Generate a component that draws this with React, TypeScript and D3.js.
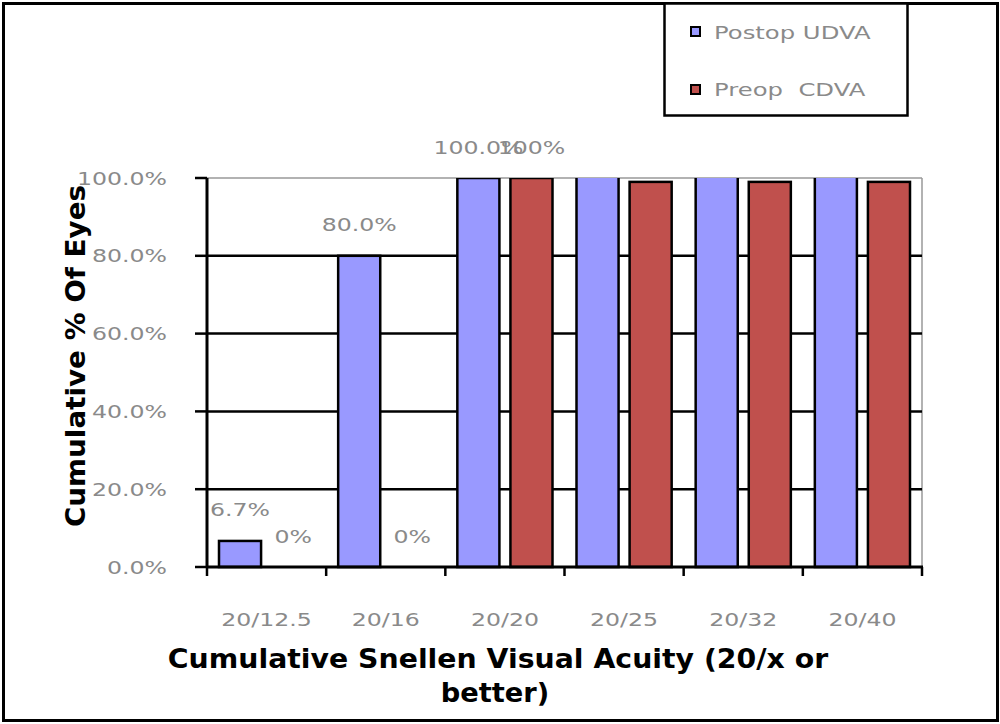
import React from "react";
import * as d3 from "d3";

const categories = ["20/12.5", "20/16", "20/20", "20/25", "20/32", "20/40"];
const seriesNames = ["Postop UDVA", "Preop CDVA"];
const postopUDVA = [6.7, 80, 100, 101, 101, 101];
const preopCDVA = [0, 0, 100, 99, 99, 99];
const dataLabelsPostop = ["6.7%", "80.0%", "100.0%", "", "", ""];
const dataLabelsPreop = ["0%", "0%", "100%", "", "", ""];
const yTicks = [0, 20, 40, 60, 80, 100];
const colors = ["#9999FF", "#C0504D"];

const W = 1000;
const H = 724;
const FONT = "'DejaVu Sans', Verdana, sans-serif";
const GRAY = "#8a8a8a";
const SX = 1.35;

export default function App() {
  const plot = { left: 207, right: 922, top: 178, bottom: 567 };
  const x0 = d3.scaleBand<string>().domain(categories).range([plot.left, plot.right]).padding(0);
  const x1 = d3
    .scaleBand<string>()
    .domain(seriesNames)
    .range([0, x0.bandwidth()])
    .paddingInner(0.2075)
    .paddingOuter(0.226);
  const y = d3.scaleLinear().domain([0, 100]).range([plot.bottom, plot.top]);
  const series = [postopUDVA, preopCDVA];
  const labels = [dataLabelsPostop, dataLabelsPreop];

  const grayText = (key: string, tx: number, ty: number, txt: string, anchor: string, size = 17.5, sx = SX) => (
    <text
      key={key}
      transform={`translate(${tx},${ty}) scale(${sx},1)`}
      textAnchor={anchor as any}
      fontFamily={FONT}
      fontSize={size}
      fill={GRAY}
      style={{ whiteSpace: "pre" }}
    >
      {txt}
    </text>
  );

  return (
    <svg
      width={W}
      height={H}
      viewBox={`0 0 ${W} ${H}`}
      style={{ position: "absolute", left: 0, top: 0, display: "block", background: "#fff" }}
    >
      <defs>
        <clipPath id="plotClip">
          <rect x={plot.left - 2} y={plot.top} width={plot.right - plot.left + 4} height={plot.bottom - plot.top + 2} />
        </clipPath>
      </defs>
      <rect x={0} y={0} width={W} height={H} fill="#fff" />
      {/* outer frame */}
      <rect x={3.5} y={3.5} width={994} height={717} fill="none" stroke="#000" strokeWidth={3} />

      {/* plot area border (gray top/right) */}
      <line x1={plot.left} x2={plot.right} y1={y(100)} y2={y(100)} stroke="#999" strokeWidth={1.5} />
      <line x1={plot.right} x2={plot.right} y1={plot.top} y2={plot.bottom} stroke="#999" strokeWidth={1.5} />

      {/* gridlines */}
      {yTicks
        .filter((t) => t > 0 && t < 100)
        .map((t) => (
          <line key={"g" + t} x1={plot.left} x2={plot.right} y1={y(t)} y2={y(t)} stroke="#000" strokeWidth={2.5} />
        ))}

      {/* bars */}
      <g clipPath="url(#plotClip)">
        {categories.map((c, i) =>
          seriesNames.map((s, j) => {
            const v = series[j][i];
            if (v <= 0) return null;
            const bx = (x0(c) as number) + (x1(s) as number);
            return (
              <rect
                key={c + s}
                x={bx}
                y={y(v)}
                width={x1.bandwidth()}
                height={y(0) - y(v)}
                fill={colors[j]}
                stroke="#000"
                strokeWidth={2.5}
              />
            );
          })
        )}
      </g>

      {/* y axis */}
      <line x1={plot.left} x2={plot.left} y1={plot.top} y2={plot.bottom} stroke="#000" strokeWidth={3} />
      {yTicks.map((t) => (
        <line key={"yt" + t} x1={plot.left - 12} x2={plot.left} y1={y(t)} y2={y(t)} stroke="#000" strokeWidth={2.5} />
      ))}
      {yTicks.map((t) => grayText("yl" + t, 167, y(t) + 6.5, `${t.toFixed(1)}%`, "end"))}

      {/* x axis */}
      <line x1={plot.left - 1} x2={plot.right + 1} y1={plot.bottom} y2={plot.bottom} stroke="#000" strokeWidth={3} />
      {[...categories.map((c) => x0(c) as number), plot.right].map((xx, i) => (
        <line key={"xt" + i} x1={xx} x2={xx} y1={plot.bottom} y2={plot.bottom + 9} stroke="#000" strokeWidth={2.5} />
      ))}
      {categories.map((c) => grayText("xl" + c, (x0(c) as number) + x0.bandwidth() / 2, 626, c, "middle"))}

      {/* data labels */}
      {categories.map((c, i) =>
        seriesNames.map((s, j) => {
          const txt = labels[j][i];
          if (!txt) return null;
          const v = series[j][i];
          const cx = (x0(c) as number) + (x1(s) as number) + x1.bandwidth() / 2;
          return grayText("dl" + c + s, cx, y(v) - 24.5, txt, "middle");
        })
      )}

      {/* axis titles */}
      <text
        transform={`translate(85,356) rotate(-90) scale(1.07,1)`}
        textAnchor="middle"
        fontFamily={FONT}
        fontWeight="bold"
        fontSize={26}
        fill="#000"
      >
        Cumulative % Of Eyes
      </text>
      <text
        transform={`translate(498,668) scale(1.09,1)`}
        textAnchor="middle"
        fontFamily={FONT}
        fontWeight="bold"
        fontSize={26}
        fill="#000"
      >
        Cumulative Snellen Visual Acuity (20/x or
      </text>
      <text
        transform={`translate(495,702) scale(1.05,1)`}
        textAnchor="middle"
        fontFamily={FONT}
        fontWeight="bold"
        fontSize={26}
        fill="#000"
      >
        better)
      </text>

      {/* legend */}
      <rect x={664.5} y={3.5} width={243} height={112} fill="#fff" stroke="#000" strokeWidth={2.5} />
      {seriesNames.map((s, j) => (
        <g key={"lg" + s}>
          <rect x={691} y={27 + j * 58} width={9} height={9} fill={colors[j]} stroke="#000" strokeWidth={2} />
          {grayText("lt" + s, 714, 39 + j * 57, j === 1 ? s.replace(" ", "  ") : s, "start", 17, 1.43)}
        </g>
      ))}
    </svg>
  );
}
